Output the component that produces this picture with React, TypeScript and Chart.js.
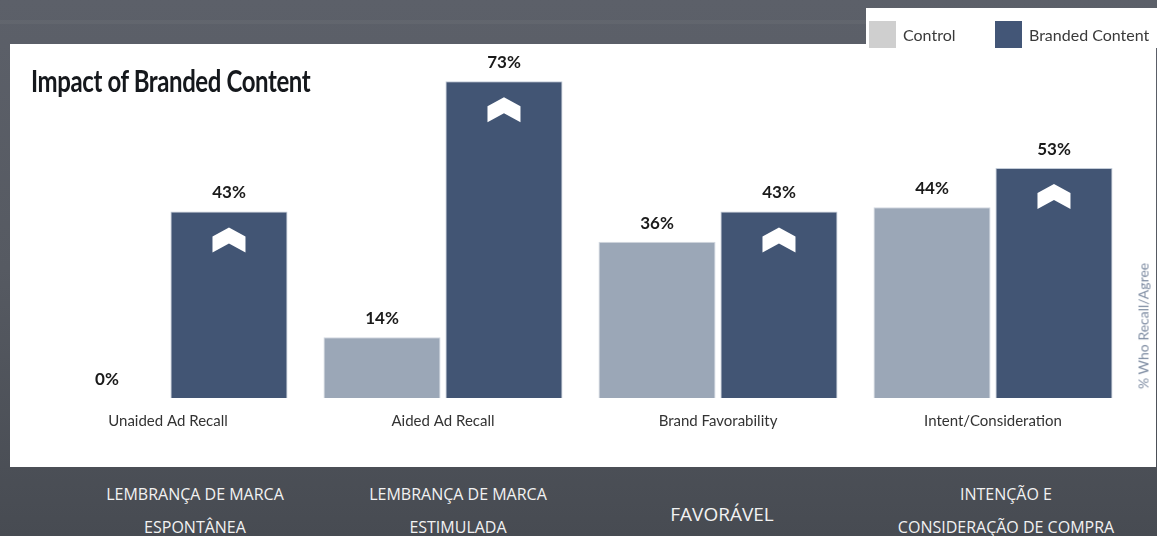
import React, { useEffect, useRef } from 'react';
import { Chart, registerables } from 'chart.js';

Chart.register(...registerables);

const categories = ['Unaided Ad Recall', 'Aided Ad Recall', 'Brand Favorability', 'Intent/Consideration'];
const controlValues = [0, 14, 36, 44];
const brandedValues = [43, 73, 43, 53];
const seriesNames = ['Control', 'Branded Content'];
const barColors = ['#9ba7b7', '#425574'];
const legendColors = ['#cfcfcf', '#435677'];
const ptLabels = [
  ['LEMBRANÇA DE MARCA', 'ESPONTÂNEA'],
  ['LEMBRANÇA DE MARCA', 'ESTIMULADA'],
  ['FAVORÁVEL'],
  ['INTENÇÃO E', 'CONSIDERAÇÃO DE COMPRA'],
];
const chartTitle = 'Impact of Branded Content';
const axisNote = '% Who Recall/Agree';
const yMin = 0;
const yMax = 80;

const ptCenters = [195, 458, 722, 1006];

const valueLabelPlugin = {
  id: 'valueLabels',
  afterDatasetsDraw(chart: any) {
    const ctx = chart.ctx;
    ctx.save();
    chart.data.datasets.forEach((ds: any, di: number) => {
      const meta = chart.getDatasetMeta(di);
      meta.data.forEach((el: any, i: number) => {
        const v = ds.data[i];
        if (di === 1) {
          const x = el.x;
          const y = el.y;
          ctx.fillStyle = '#ffffff';
          ctx.beginPath();
          ctx.moveTo(x - 16.5, y + 25);
          ctx.lineTo(x, y + 16);
          ctx.lineTo(x + 16.5, y + 25);
          ctx.lineTo(x + 16.5, y + 41);
          ctx.lineTo(x, y + 32);
          ctx.lineTo(x - 16.5, y + 41);
          ctx.closePath();
          ctx.fill();
        }
        ctx.fillStyle = '#1a1a1a';
        ctx.font = 'bold 17px Lato';
        ctx.textAlign = 'center';
        ctx.textBaseline = 'middle';
        ctx.fillText(v + '%', el.x, el.y - 18.5);
      });
    });
    ctx.restore();
  },
};

export default function App() {
  const canvasRef = useRef<HTMLCanvasElement | null>(null);

  useEffect(() => {
    document.body.style.margin = '0';
    const canvas = canvasRef.current;
    if (!canvas) return;
    const chart = new Chart(canvas, {
      type: 'bar',
      data: {
        labels: categories,
        datasets: [
          {
            label: seriesNames[0],
            data: controlValues,
            backgroundColor: barColors[0],
            borderColor: '#d3d9e1',
            borderWidth: 1,
            barPercentage: 0.96,
            categoryPercentage: 0.887,
          },
          {
            label: seriesNames[1],
            data: brandedValues,
            backgroundColor: barColors[1],
            borderColor: '#c3ccd8',
            borderWidth: 1,
            barPercentage: 0.96,
            categoryPercentage: 0.887,
          },
        ],
      },
      options: {
        animation: false,
        responsive: false,
        maintainAspectRatio: false,
        devicePixelRatio: 1,
        layout: { padding: { left: 20.5, right: 25.5, top: 7, bottom: 0 } },
        plugins: {
          legend: { display: false },
          title: { display: false },
          tooltip: { enabled: false },
        },
        scales: {
          x: {
            grid: { display: false },
            border: { display: false },
            ticks: {
              color: '#333333',
              font: { family: 'Lato', size: 15 },
              padding: 6,
              maxRotation: 0,
              autoSkip: false,
            },
            afterFit(scale: any) {
              scale.height = 69;
            },
          },
          y: {
            display: false,
            min: yMin,
            max: yMax,
          },
        },
      },
      plugins: [valueLabelPlugin],
    } as any);
    return () => chart.destroy();
  }, []);

  return (
    <div
      style={{
        position: 'absolute',
        left: 0,
        top: 0,
        width: 1157,
        height: 536,
        overflow: 'hidden',
        background: 'linear-gradient(180deg, #5c6069 0%, #565a62 50%, #474b52 100%)',
        fontFamily: 'Lato, sans-serif',
      }}
    >
      <div style={{ position: 'absolute', left: 0, top: 20, width: 1157, height: 4, background: 'rgba(255,255,255,0.04)' }} />
      <div style={{ position: 'absolute', left: 10, top: 44, width: 1146, height: 423, background: '#ffffff' }} />
      <div style={{ position: 'absolute', left: 866, top: 8, width: 291, height: 40, background: '#ffffff' }} />
      <canvas
        ref={canvasRef}
        width={1146}
        height={423}
        style={{ position: 'absolute', left: 10, top: 44, width: 1146, height: 423 }}
      />
      {seriesNames.map((name, i) => (
        <div
          key={name}
          style={{
            position: 'absolute',
            left: i === 0 ? 869 : 995,
            top: 21,
            height: 27,
            display: 'flex',
            alignItems: 'center',
          }}
        >
          <div style={{ width: 27, height: 27, background: legendColors[i] }} />
          <span style={{ marginLeft: 7, fontSize: 16, color: '#3a3a3a', whiteSpace: 'nowrap' }}>{name}</span>
        </div>
      ))}
      <div
        style={{
          position: 'absolute',
          left: 31,
          top: 62,
          fontSize: 30,
          fontWeight: 700,
          color: '#15181c',
          whiteSpace: 'nowrap',
          transform: 'scaleX(0.80)',
          transformOrigin: 'left center',
          letterSpacing: -0.5,
        }}
      >
        {chartTitle}
      </div>
      <div
        style={{
          position: 'absolute',
          left: 1143,
          top: 326,
          fontSize: 14,
          color: '#7e8ca2',
          whiteSpace: 'nowrap',
          transform: 'translate(-50%, -50%) rotate(-90deg)',
        }}
      >
        {axisNote}
      </div>
      {ptLabels.map((lines, i) => (
        <div
          key={i}
          style={{
            position: 'absolute',
            left: ptCenters[i],
            top: lines.length === 1 ? 514 : 510.5,
            transform: 'translate(-50%, -50%)',
            textAlign: 'center',
            fontFamily: '"Open Sans", sans-serif',
            fontSize: lines.length === 1 ? 19 : 16,
            lineHeight: '33px',
            color: '#f2f2f2',
            whiteSpace: 'nowrap',
          }}
        >
          {lines.map((l, j) => (
            <div key={j}>{l}</div>
          ))}
        </div>
      ))}
    </div>
  );
}
